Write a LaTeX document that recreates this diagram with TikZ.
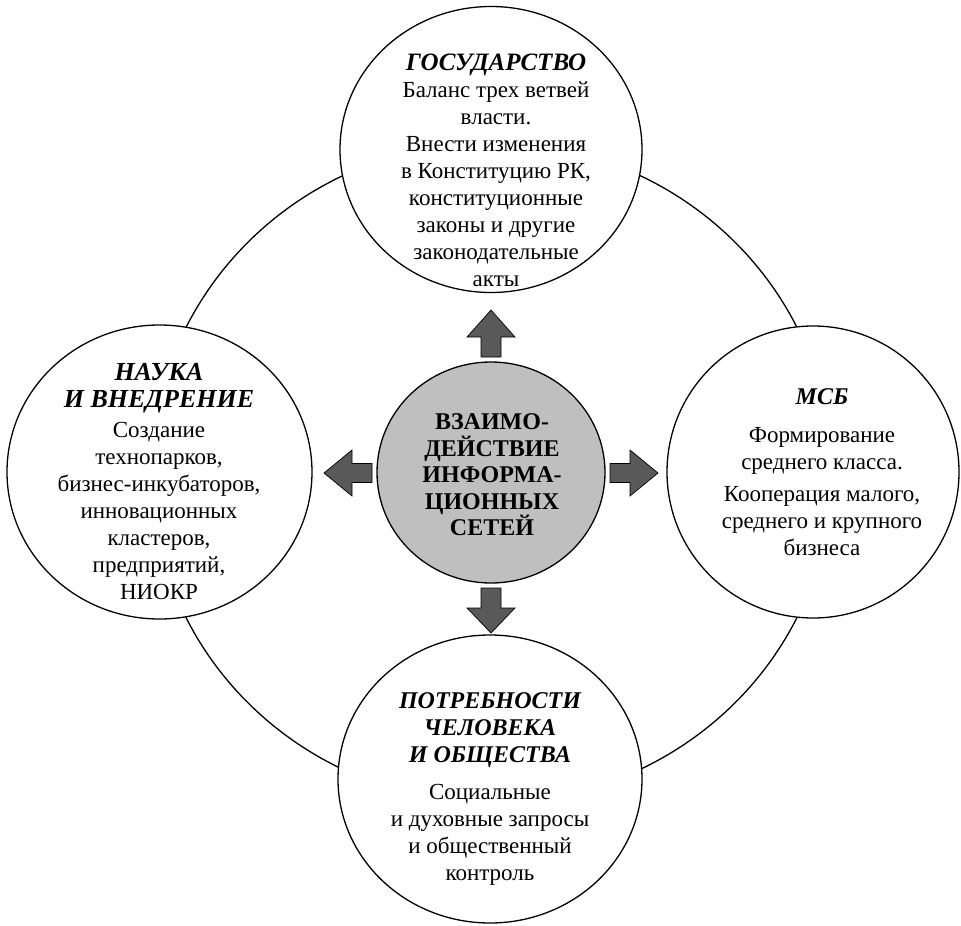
\documentclass[tikz,border=0pt]{standalone}
\usepackage{fontspec}
\setmainfont{Liberation Serif}
\usetikzlibrary{shapes.geometric}
\definecolor{arrowgray}{RGB}{89,89,89}
\definecolor{coregray}{RGB}{191,191,191}
\newcommand{\ttlA}[1]{{\fontsize{25}{27}\selectfont\bfseries\itshape #1}}
\newcommand{\ttlB}[1]{{\fontsize{26}{27}\selectfont\bfseries\itshape #1}}
\newcommand{\ttlC}[1]{{\fontsize{24}{27}\selectfont\bfseries\itshape #1}}
\begin{document}
\begin{tikzpicture}[x=1pt,y=-1pt,
  sat/.style={draw, ellipse, line width=1.3pt, fill=white, inner sep=0pt},
  blockarr/.style={draw=black, line width=0.7pt, fill=arrowgray},
  txt/.style={align=center, inner sep=0pt, font=\fontsize{23}{27}\selectfont}]
\useasboundingbox (0,0) rectangle (961,926);
% outer ring
\draw[line width=1.3pt] (491.5,472.5) ellipse [x radius=340, y radius=330];
% satellite circles
\node[sat, minimum width=302pt, minimum height=286pt] (gov) at (491,149.5) {};
\node[sat, minimum width=305pt, minimum height=294pt] (sci) at (159.5,472) {};
\node[sat, minimum width=292pt, minimum height=292pt] (msb) at (813,472) {};
\node[sat, minimum width=304pt, minimum height=288pt] (soc) at (490,779) {};
% core
\node[sat, fill=coregray, minimum width=228pt, minimum height=221pt] (core) at (491,472.5) {};
% block arrows
\draw[blockarr] (481,357) -- (481,337) -- (467,337) -- (491,310) -- (515,337) -- (501,337) -- (501,357) -- cycle;
\draw[blockarr] (610,463.5) -- (630,463.5) -- (630,450) -- (658,473) -- (630,496) -- (630,482.5) -- (610,482.5) -- cycle;
\draw[blockarr] (481,588) -- (501,588) -- (501,608) -- (515,608) -- (491,633) -- (467,608) -- (481,608) -- cycle;
\draw[blockarr] (372,463.5) -- (352,463.5) -- (352,450) -- (324,473) -- (352,496) -- (352,482.5) -- (372,482.5) -- cycle;
% texts
\node[txt] (govt) at (496,170) {\ttlA{ГОСУДАРСТВО}\\Баланс трех ветвей\\власти.\\Внести изменения\\в Конституцию РК,\\конституционные\\законы и другие\\законодательные\\акты};
\node[txt] (scit) at (159,482) {\ttlB{НАУКА}\\[0pt]\ttlB{И ВНЕДРЕНИЕ}\\[3pt]Создание\\технопарков,\\бизнес-инкубаторов,\\инновационных\\кластеров,\\предприятий,\\НИОКР};
\node[txt] (msbt) at (822,472) {\ttlC{МСБ}\\[11pt]Формирование\\среднего класса.\\[5pt]Кооперация малого,\\среднего и крупного\\бизнеса};
\node[txt] (soct) at (490,789) {\ttlC{ПОТРЕБНОСТИ}\\\ttlC{ЧЕЛОВЕКА}\\\ttlC{И ОБЩЕСТВА}\\[10pt]Социальные\\и духовные запросы\\и общественный\\контроль};
\node[txt, font=\bfseries\fontsize{24}{26.5}\selectfont] (coret) at (492,475) {ВЗАИМО-\\ДЕЙСТВИЕ\\ИНФОРМА-\\ЦИОННЫХ\\СЕТЕЙ};
\end{tikzpicture}
\end{document}
